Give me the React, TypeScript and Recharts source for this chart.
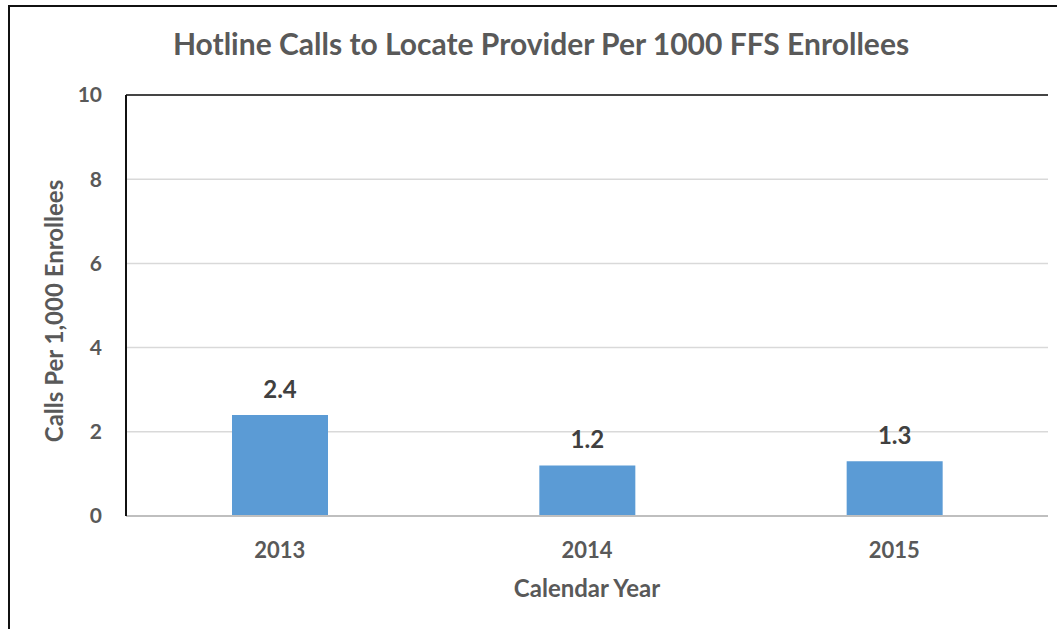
import { Bar, BarChart, CartesianGrid, Label, LabelList, ReferenceLine, XAxis, YAxis } from "recharts";

const years = ["2013", "2014", "2015"];
const callsPerThousand = [2.4, 1.2, 1.3];
const yTicks = [0, 2, 4, 6, 8, 10];

const data = years.map((year, i) => ({ year, value: callsPerThousand[i] }));

const FONT = "Lato, 'Open Sans', sans-serif";
const GREY = "#595959";

export default function App() {
  const titleSize = 30;
  return (
    <div
      style={{
        position: "absolute",
        left: 0,
        top: 0,
        width: 1057,
        height: 629,
        background: "#fff",
        overflow: "hidden",
        fontFamily: FONT,
      }}
    >
      <div
        style={{
          position: "absolute",
          left: 8,
          top: 5,
          width: 1100,
          height: 700,
          border: "2px solid #111",
          boxSizing: "border-box",
        }}
      />
      <div
        style={{
          position: "absolute",
          left: 0,
          width: 1082,
          top: 55 - 0.987 * titleSize,
          textAlign: "center",
          fontSize: titleSize,
          fontWeight: 700,
          color: GREY,
          lineHeight: "normal",
          whiteSpace: "nowrap",
        }}
      >
        Hotline Calls to Locate Provider Per 1000 FFS Enrollees
      </div>
      <div style={{ position: "absolute", left: 0, top: 0 }}>
        <BarChart
          width={1057}
          height={629}
          data={data}
          margin={{ top: 95, right: 9, bottom: 53, left: 56 }}
        >
          <CartesianGrid vertical={false} stroke="#d9d9d9" strokeWidth={1.5} />
          <XAxis
            dataKey="year"
            axisLine={{ stroke: "#bfbfbf", strokeWidth: 2 }}
            tickLine={false}
            tickSize={0}
            tickMargin={26}
            height={60}
            tick={{ fill: GREY, fontSize: 22, fontWeight: 700, fontFamily: FONT }}
          >
            <Label
              content={({ viewBox }: any) => (
                <text
                  x={viewBox.x + viewBox.width / 2}
                  y={597}
                  textAnchor="middle"
                  fill={GREY}
                  fontSize={24}
                  fontWeight={700}
                  fontFamily={FONT}
                >
                  Calendar Year
                </text>
              )}
            />
          </XAxis>
          <YAxis
            domain={[0, 10]}
            ticks={yTicks}
            width={70}
            axisLine={{ stroke: "#111", strokeWidth: 2 }}
            tickLine={false}
            tickSize={0}
            tickMargin={24}
            tick={{ fill: GREY, fontSize: 21, fontWeight: 700, fontFamily: FONT }}
          >
            <Label
              content={() => (
                <text
                  x={63}
                  y={311}
                  transform="rotate(-90 63 311)"
                  textAnchor="middle"
                  fill={GREY}
                  fontSize={24}
                  fontWeight={700}
                  fontFamily={FONT}
                >
                  Calls Per 1,000 Enrollees
                </text>
              )}
            />
          </YAxis>
          <YAxis
            yAxisId="right"
            orientation="right"
            domain={[0, 10]}
            width={0}
            tick={false}
            tickLine={false}
            axisLine={{ stroke: "#111", strokeWidth: 2 }}
          />
          <ReferenceLine y={10} stroke="#111" strokeWidth={1.5} />
          <Bar dataKey="value" fill="#5b9bd5" barSize={96} isAnimationActive={false}>
            <LabelList
              dataKey="value"
              position="top"
              offset={17}
              formatter={(v: any) => Number(v).toFixed(1)}
              fill="#404040"
              fontSize={24}
              fontWeight={700}
              fontFamily={FONT}
            />
          </Bar>
        </BarChart>
      </div>
    </div>
  );
}
